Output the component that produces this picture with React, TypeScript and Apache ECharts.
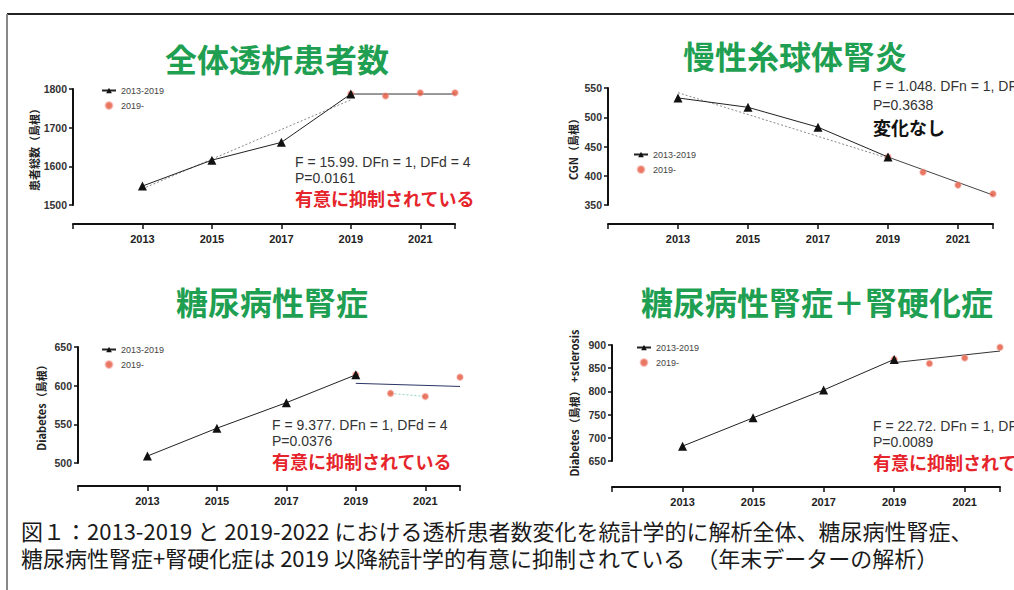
import React, { useEffect, useRef } from "react";
import * as echarts from "echarts";

// ---- data ----
const preYears = [2013, 2015, 2017, 2019];
const postYears = [2019, 2020, 2021, 2022];
const fitPreYears = [2013, 2019];
const fitPostYears = [2019, 2022];
const xTickYears = [2013, 2015, 2017, 2019, 2021];

// 全体透析患者数
const totalPre = [1549, 1616, 1662, 1787];
const totalPost = [1787, 1782, 1790, 1790];
const totalFitPre = [1542, 1772];
const totalFitPost = [1787, 1787];

// 慢性糸球体腎炎 (CGN)
const cgnPre = [533, 517, 483, 432];
const cgnPost = [432, 406, 384, 369];
const cgnFitPre = [542, 430];
const cgnFitPost = [432, 367];

// 糖尿病性腎症
const dmPre = [509, 545, 578, 614];
const dmPost = [614, 590, 586, 611];
const dmFitPost = [603, 599];

// 糖尿病性腎症＋腎硬化症
const dmsPre = [682, 743, 803, 869];
const dmsPost = [869, 860, 872, 895];
const dmsFitPost = [862, 887];

const legendNames = ["2013-2019", "2019-"];

const CJK = '"Noto Sans CJK JP", sans-serif';
const LAT = '"Liberation Sans", Arial, sans-serif';

type Panel = {
  title: string;
  titleX: number;
  titleY: number;
  yName: string;
  yMin: number;
  yMax: number;
  yInt: number;
  grid: { left: number; top: number; width: number; height: number };
  xOffset: number;
  nameGap: number;
  legendPos: { left: number; top: number };
  pre: number[];
  post: number[];
  fitPre?: number[];
  fitPost: number[];
  fitPostColor: string;
  stat1: string;
  stat2: string;
  verdict: string;
  verdictColor: string;
  statX: number;
  statY: [number, number, number];
};

const panels: Panel[] = [
  {
    title: "全体透析患者数",
    titleX: 277,
    titleY: 58,
    yName: "患者総数（島根）",
    yMin: 1500,
    yMax: 1800,
    yInt: 100,
    grid: { left: 73, top: 89, width: 382, height: 116 },
    xOffset: 19,
    nameGap: 32,
    legendPos: { left: 101, top: 86 },
    pre: totalPre,
    post: totalPost,
    fitPre: totalFitPre,
    fitPost: totalFitPost,
    fitPostColor: "#333",
    stat1: "F = 15.99. DFn = 1, DFd = 4",
    stat2: "P=0.0161",
    verdict: "有意に抑制されている",
    verdictColor: "#e5242b",
    statX: 295,
    statY: [162, 178, 198],
  },
  {
    title: "慢性糸球体腎炎",
    titleX: 795,
    titleY: 55,
    yName: "CGN（島根）",
    yMin: 350,
    yMax: 550,
    yInt: 50,
    grid: { left: 608, top: 88, width: 385, height: 117 },
    xOffset: 19,
    nameGap: 30,
    legendPos: { left: 633, top: 150 },
    pre: cgnPre,
    post: cgnPost,
    fitPre: cgnFitPre,
    fitPost: cgnFitPost,
    fitPostColor: "#444",
    stat1: "F = 1.048. DFn = 1, DFd = 4",
    stat2: "P=0.3638",
    verdict: "変化なし",
    verdictColor: "#111",
    statX: 873,
    statY: [86, 105, 127],
  },
  {
    title: "糖尿病性腎症",
    titleX: 272,
    titleY: 301,
    yName: "Diabetes（島根）",
    yMin: 500,
    yMax: 650,
    yInt: 50,
    grid: { left: 78, top: 347, width: 382, height: 116 },
    xOffset: 23,
    nameGap: 32,
    legendPos: { left: 101, top: 345 },
    pre: dmPre,
    post: dmPost,
    fitPost: dmFitPost,
    fitPostColor: "#2b3566",
    stat1: "F = 9.377. DFn = 1, DFd = 4",
    stat2: "P=0.0376",
    verdict: "有意に抑制されている",
    verdictColor: "#e5242b",
    statX: 272,
    statY: [425, 441, 461],
  },
  {
    title: "糖尿病性腎症＋腎硬化症",
    titleX: 817,
    titleY: 301,
    yName: "Diabetes（島根） +sclerosis",
    yMin: 650,
    yMax: 900,
    yInt: 50,
    grid: { left: 612, top: 345, width: 388, height: 116 },
    xOffset: 26,
    nameGap: 33,
    legendPos: { left: 636, top: 343 },
    pre: dmsPre,
    post: dmsPost,
    fitPost: dmsFitPost,
    fitPostColor: "#333",
    stat1: "F = 22.72. DFn = 1, DFd = 4",
    stat2: "P=0.0089",
    verdict: "有意に抑制されている",
    verdictColor: "#e5242b",
    statX: 873,
    statY: [426, 442, 462],
  },
];

const caption =
  "図１：2013-2019 と 2019-2022 における透析患者数変化を統計学的に解析全体、糖尿病性腎症、\n" +
  "糖尿病性腎症+腎硬化症は 2019 以降統計学的有意に抑制されている　（年末データーの解析）";

function pairs(xs: number[], ys: number[]) {
  return xs.map((x, i) => [x, ys[i]]);
}

function buildOption() {
  const grids: any[] = [];
  const xAxes: any[] = [];
  const yAxes: any[] = [];
  const series: any[] = [];
  const legends: any[] = [];
  const graphics: any[] = [];

  panels.forEach((p, i) => {
    grids.push({ ...p.grid, containLabel: false });
    xAxes.push({
      type: "value",
      gridIndex: i,
      min: 2011,
      max: 2022,
      interval: 2,
      offset: p.xOffset,
      axisLine: { show: true, lineStyle: { color: "#111", width: 2 } },
      axisTick: { show: true, length: 5, lineStyle: { color: "#111", width: 1.5 } },
      axisLabel: {
        margin: 9,
        fontSize: 11,
        fontWeight: "bold",
        color: "#222",
        fontFamily: LAT,
        formatter: (v: number) => (xTickYears.includes(v) ? String(v) : ""),
      },
      splitLine: { show: false },
    });
    yAxes.push({
      type: "value",
      gridIndex: i,
      min: p.yMin,
      max: p.yMax,
      interval: p.yInt,
      name: p.yName,
      nameLocation: "middle",
      nameRotate: 90,
      nameGap: p.nameGap,
      nameTextStyle: {
        fontSize: 11,
        fontWeight: "bold",
        color: "#222",
        fontFamily: CJK,
      },
      axisLine: { show: true, lineStyle: { color: "#111", width: 2 } },
      axisTick: { show: true, length: 4, lineStyle: { color: "#111", width: 1.5 } },
      axisLabel: {
        margin: 6,
        fontSize: 10.5,
        fontWeight: "bold",
        color: "#333",
        fontFamily: LAT,
        formatter: (v: number) => String(v),
      },
      splitLine: { show: false },
    });

    if (p.fitPre) {
      series.push({
        type: "line",
        name: "fit-pre-" + i,
        xAxisIndex: i,
        yAxisIndex: i,
        data: pairs(fitPreYears, p.fitPre),
        symbol: "none",
        lineStyle: { color: "#888", width: 1, type: [2, 2] },
        z: 2,
      });
    }
    series.push({
      type: "line",
      name: "fit-post-" + i,
      xAxisIndex: i,
      yAxisIndex: i,
      data: pairs(fitPostYears, p.fitPost),
      symbol: "none",
      lineStyle: { color: p.fitPostColor, width: 1 },
      z: 2,
    });
    series.push({
      type: "scatter",
      name: "2019-",
      xAxisIndex: i,
      yAxisIndex: i,
      data: pairs(postYears, p.post),
      symbol: "circle",
      symbolSize: 6,
      itemStyle: { color: "#e4553a", borderColor: "rgba(240,150,140,0.6)", borderWidth: 1.5 },
      z: 3,
    });
    series.push({
      type: "line",
      name: "2013-2019",
      xAxisIndex: i,
      yAxisIndex: i,
      data: pairs(preYears, p.pre),
      symbol: "triangle",
      symbolSize: 9,
      itemStyle: { color: "#111" },
      lineStyle: { color: "#222", width: 1 },
      z: 4,
    });

    legends.push({
      data: legendNames,
      left: p.legendPos.left,
      top: p.legendPos.top,
      orient: "vertical",
      itemWidth: 14,
      itemHeight: 7,
      itemGap: 6,
      padding: 0,
      selectedMode: false,
      textStyle: { fontSize: 9, color: "#444", fontFamily: LAT },
    });

    graphics.push({
      type: "text",
      x: p.titleX,
      y: p.titleY,
      style: {
        text: p.title,
        fontSize: 32,
        fontWeight: "bold",
        fontFamily: CJK,
        fill: "#1f9f52",
        align: "center",
        verticalAlign: "middle",
      },
    });
    graphics.push({
      type: "text",
      x: p.statX,
      y: p.statY[0],
      style: {
        text: p.stat1,
        fontSize: 14,
        fontFamily: LAT,
        fill: "#333",
        align: "left",
        verticalAlign: "middle",
      },
    });
    graphics.push({
      type: "text",
      x: p.statX,
      y: p.statY[1],
      style: {
        text: p.stat2,
        fontSize: 14,
        fontFamily: LAT,
        fill: "#333",
        align: "left",
        verticalAlign: "middle",
      },
    });
    graphics.push({
      type: "text",
      x: p.statX,
      y: p.statY[2],
      style: {
        text: p.verdict,
        fontSize: 18,
        fontWeight: "bold",
        fontFamily: CJK,
        fill: p.verdictColor,
        align: "left",
        verticalAlign: "middle",
      },
    });
  });

  // panel 3: light connector between red points
  series.push({
    type: "line",
    name: "dm-post-connector",
    xAxisIndex: 2,
    yAxisIndex: 2,
    data: pairs(postYears.slice(1, 3), dmPost.slice(1, 3)),
    symbol: "none",
    lineStyle: { color: "#8fd6c0", width: 1, type: [2, 2] },
    z: 1,
  });

  // frame
  graphics.push({
    type: "line",
    shape: { x1: 7, y1: 14, x2: 1014, y2: 14 },
    style: { stroke: "#222", lineWidth: 2 },
  });
  graphics.push({
    type: "line",
    shape: { x1: 7, y1: 14, x2: 7, y2: 590 },
    style: { stroke: "#888", lineWidth: 2 },
  });
  // caption
  graphics.push({
    type: "text",
    x: 21,
    y: 516,
    style: {
      text: caption,
      fontSize: 22,
      lineHeight: 27,
      fontFamily: CJK,
      fill: "#1a1a1a",
      align: "left",
      verticalAlign: "top",
    },
  });

  return {
    animation: false,
    backgroundColor: "#ffffff",
    grid: grids,
    xAxis: xAxes,
    yAxis: yAxes,
    legend: legends,
    series,
    graphic: graphics,
  };
}

export default function App() {
  const ref = useRef<HTMLDivElement>(null);
  useEffect(() => {
    document.body.style.margin = "0";
    if (!ref.current) return;
    const chart = echarts.init(ref.current, undefined, { renderer: "svg" });
    chart.setOption(buildOption() as any);
    return () => chart.dispose();
  }, []);
  return <div ref={ref} style={{ width: 1014, height: 590 }} />;
}
